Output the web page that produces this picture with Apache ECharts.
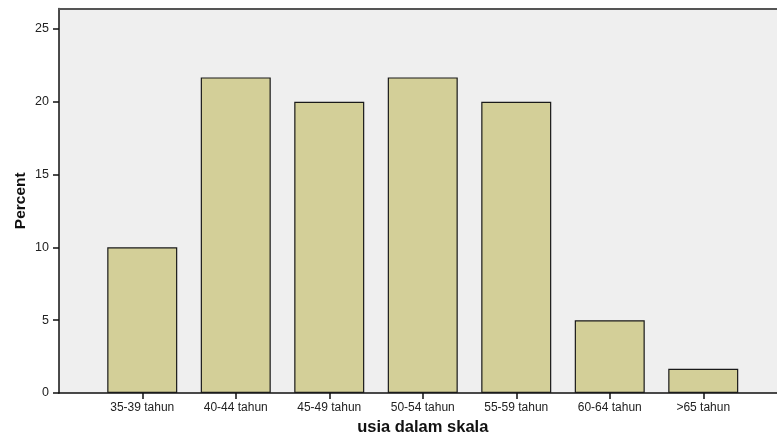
<!DOCTYPE html>
<html><head><meta charset="utf-8">
<script src="https://cdn.jsdelivr.net/npm/echarts@6/dist/echarts.min.js"></script>
<style>html,body{margin:0;padding:0;background:#fff}#c{width:777px;height:441px}</style>
</head><body><div id="c"></div>
<script>
const categories = ['35-39 tahun','40-44 tahun','45-49 tahun','50-54 tahun','55-59 tahun','60-64 tahun','>65 tahun'];
const percentValues = [10, 21.67, 20, 21.67, 20, 5, 1.67];
const yTicks = [0, 5, 10, 15, 20, 25];

const font = 'Arial, "Liberation Sans", sans-serif';
const chart = echarts.init(document.getElementById('c'), null, {renderer:'canvas'});
chart.setOption({
  animation:false,
  grid:[
    {left:59, top:8.5, right:0, bottom:48, show:true, backgroundColor:'#efefef', borderWidth:0},
    {left:95.5, top:8.5, right:27, bottom:48}
  ],
  xAxis:[
    {gridIndex:0, type:'value', min:0, max:1, position:'bottom', axisLine:{show:true, onZero:false, lineStyle:{color:'#111', width:1.5}}, axisTick:{show:false}, axisLabel:{show:false}, splitLine:{show:false}},
    {gridIndex:0, type:'value', min:0, max:1, position:'top', axisLine:{show:true, onZero:false, lineStyle:{color:'#555', width:2}}, axisTick:{show:false}, axisLabel:{show:false}, splitLine:{show:false}},
    {gridIndex:1, type:'category', data:categories, axisLine:{show:false}, axisTick:{show:true, alignWithLabel:true, length:6, lineStyle:{color:'#111', width:1.5}}, axisLabel:{margin:9, fontSize:12, color:'#222', fontFamily:font}, name:'usia dalam skala', nameLocation:'middle', nameGap:26, nameTextStyle:{fontSize:16.5, fontWeight:'bold', color:'#111', fontFamily:font}}
  ],
  yAxis:[
    {gridIndex:0, type:'value', min:0, max:26.4, axisLine:{show:true, lineStyle:{color:'#111', width:1.5}}, axisTick:{show:true, length:6, customValues:yTicks, lineStyle:{color:'#111', width:1.5}}, axisLabel:{customValues:yTicks, margin:10, fontSize:12.5, color:'#222', fontFamily:font}, splitLine:{show:false}, name:'Percent', nameLocation:'middle', nameGap:30.5, nameMoveOverlap:false, nameTextStyle:{fontSize:15.5, fontWeight:'bold', color:'#111', fontFamily:font}},
    {gridIndex:1, type:'value', min:0, max:26.4, show:false}
  ],
  series:[{
    type:'bar', xAxisIndex:2, yAxisIndex:1, data:percentValues, barWidth:70,
    itemStyle:{color:'#d3cf98', borderColor:'#1a1a1a', borderWidth:1.2}
  }]
});
</script></body></html>
